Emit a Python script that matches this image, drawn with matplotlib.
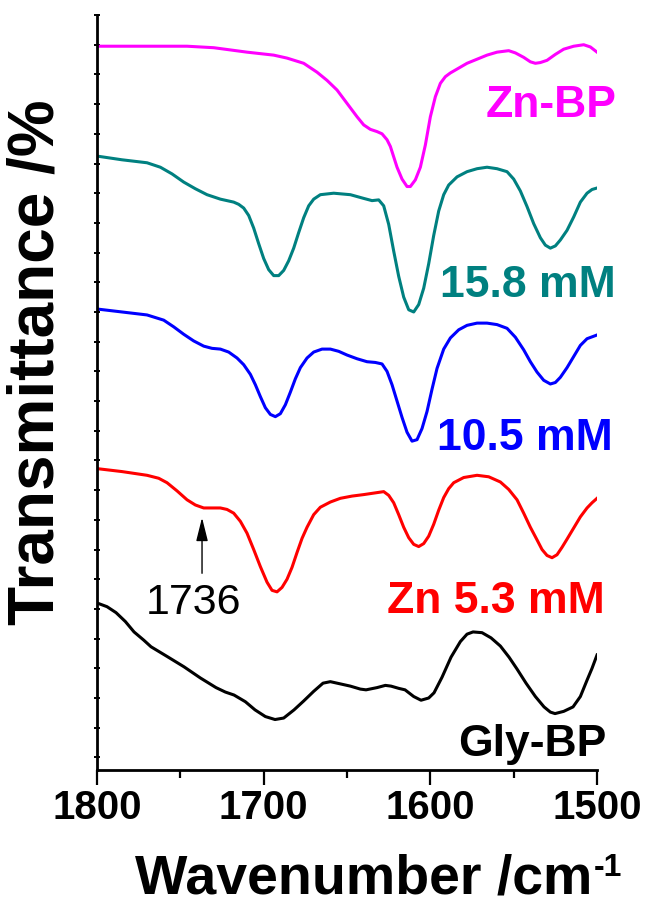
#!/usr/bin/env python3

import matplotlib

matplotlib.use("Agg")
import matplotlib.pyplot as plt
from matplotlib.ticker import FixedLocator

# ==========================================
# DATA (offset transmittance in a.u.)
# ==========================================

ZNBP_WN = [1800, 1746, 1730, 1710, 1694, 1686, 1676, 1668, 1662, 1656, 1650,
           1644, 1640, 1636, 1632, 1629, 1626, 1624, 1620, 1617, 1614, 1612,
           1609, 1606, 1603, 1600, 1597, 1594, 1591, 1588, 1578, 1566, 1560,
           1553, 1549, 1544, 1540, 1537, 1534, 1530, 1525, 1520, 1514, 1508,
           1504, 1500]
ZNBP_T = [95.8, 95.8, 95.6, 95.0, 94.6, 94.2, 93.5, 92.3, 91.2, 89.9, 88.1,
          86.3, 85.2, 84.6, 84.3, 84.0, 83.2, 82.3, 79.5, 77.9, 76.9, 76.9,
          77.8, 79.5, 82.5, 86.3, 89.0, 90.8, 91.7, 92.2, 93.5, 94.6, 95.0,
          95.2, 94.9, 94.3, 93.7, 93.5, 93.6, 93.9, 94.7, 95.4, 95.8, 96.0,
          95.7, 95.0]

ZN158_WN = [1800, 1785, 1770, 1762, 1755, 1748, 1741, 1734, 1726, 1718, 1715,
            1712, 1709, 1706, 1703, 1700, 1697, 1694, 1691, 1688, 1685, 1682,
            1679, 1676, 1673, 1670, 1666, 1658, 1648, 1640, 1635, 1631, 1628,
            1625, 1622, 1619, 1616, 1613, 1610, 1607, 1604, 1601, 1598, 1595,
            1592, 1589, 1584, 1578, 1572, 1566, 1560, 1554, 1550, 1546, 1542,
            1538, 1534, 1531, 1528, 1525, 1522, 1518, 1514, 1510, 1506, 1503,
            1500]
ZN158_T = [81.0, 80.5, 80.1, 79.5, 78.6, 77.5, 76.6, 75.8, 75.2, 74.8, 74.5,
           74.0, 73.0, 71.3, 69.2, 67.2, 65.7, 64.9, 64.9, 65.6, 66.9, 68.6,
           70.7, 72.7, 74.3, 75.2, 75.8, 76.0, 75.8, 75.3, 75.0, 75.1, 74.3,
           71.8, 68.2, 64.8, 62.0, 60.3, 60.0, 61.0, 63.2, 66.5, 70.3, 73.6,
           75.8, 77.1, 78.2, 78.9, 79.3, 79.5, 79.3, 78.9, 77.9, 76.3, 74.2,
           71.9, 70.0, 69.0, 68.6, 68.9, 69.7, 71.0, 72.8, 74.8, 76.0, 76.5,
           76.7]

ZN105_WN = [1800, 1785, 1770, 1760, 1754, 1748, 1742, 1736, 1731, 1726, 1721,
            1716, 1712, 1708, 1705, 1702, 1699, 1696, 1693, 1690, 1687, 1684,
            1681, 1678, 1674, 1670, 1665, 1660, 1655, 1650, 1644, 1638, 1633,
            1629, 1626, 1623, 1620, 1617, 1614, 1611, 1608, 1605, 1602, 1599,
            1596, 1592, 1588, 1583, 1578, 1572, 1566, 1560, 1554, 1549, 1544,
            1540, 1536, 1532, 1528, 1525, 1522, 1518, 1514, 1510, 1506, 1500]
ZN105_T = [60.4, 60.0, 59.6, 58.9, 58.0, 57.0, 56.1, 55.4, 55.1, 55.0, 54.6,
           53.8, 52.9, 51.6, 50.2, 48.6, 47.1, 46.2, 45.9, 46.3, 47.5, 49.2,
           51.0, 52.5, 53.8, 54.6, 55.0, 55.0, 54.7, 54.2, 53.7, 53.3, 53.2,
           53.0, 52.0, 50.2, 48.0, 45.8, 43.8, 42.6, 42.8, 44.3, 46.6, 49.6,
           52.4, 55.0, 56.5, 57.6, 58.2, 58.5, 58.5, 58.3, 57.8, 56.6, 54.9,
           53.3, 51.9, 50.8, 50.3, 50.5, 51.2, 52.5, 54.0, 55.5, 56.4, 56.9]

ZN53_WN = [1800, 1785, 1770, 1763, 1758, 1752, 1746, 1741, 1736, 1731, 1726,
           1722, 1718, 1714, 1710, 1706, 1702, 1698, 1695, 1692, 1689, 1686,
           1683, 1680, 1677, 1674, 1670, 1666, 1660, 1654, 1647, 1640, 1634,
           1628, 1625, 1622, 1619, 1616, 1613, 1610, 1607, 1604, 1601, 1598,
           1595, 1592, 1589, 1586, 1580, 1572, 1565, 1558, 1553, 1548, 1544,
           1540, 1536, 1533, 1530, 1527, 1524, 1521, 1518, 1514, 1510, 1506,
           1503, 1500]
ZN53_T = [38.9, 38.5, 38.0, 37.6, 37.0, 35.9, 34.7, 34.0, 33.6, 33.6, 33.6,
          33.4, 32.9, 31.8, 30.2, 28.0, 25.7, 23.6, 22.5, 22.3, 22.9, 24.0,
          25.6, 27.6, 29.5, 31.0, 32.7, 33.7, 34.4, 34.9, 35.2, 35.4, 35.6,
          35.8, 35.3, 34.3, 32.7, 31.0, 29.6, 28.7, 28.4, 28.8, 29.8, 31.4,
          33.3, 35.0, 36.2, 37.0, 37.7, 38.0, 37.8, 37.1, 36.1, 34.7, 32.9,
          31.0, 29.3, 28.0, 27.2, 26.9, 27.3, 28.3, 29.4, 30.9, 32.4, 33.6,
          34.3, 34.9]

GLY_WN = [1800, 1794, 1788.6, 1783, 1777.8, 1772, 1767.6, 1758, 1747.8, 1738,
          1728.6, 1723, 1717.8, 1711, 1705.2, 1699, 1693.2, 1688, 1681.8, 1676,
          1670, 1664.4, 1660, 1656, 1648, 1642, 1638.6, 1632, 1627, 1623.6,
          1619, 1615.2, 1610, 1605.6, 1601, 1597.8, 1593, 1587.6, 1582, 1578,
          1574.4, 1569, 1563.6, 1558, 1552.8, 1548, 1542.6, 1537, 1531.8, 1528,
          1525.2, 1520, 1514.4, 1510, 1506, 1503, 1500]
GLY_T = [20.8, 20.3, 19.5, 18.3, 16.9, 15.8, 14.9, 13.6, 12.2, 10.7,
         9.4, 8.8, 8.4, 7.5, 6.4, 5.5, 5.1, 5.3, 6.4, 7.6,
         8.9, 10.0, 10.2, 10.0, 9.6, 9.2, 9.1, 9.4, 9.7, 9.6,
         9.3, 9.1, 8.2, 7.7, 8.0, 8.7, 10.8, 13.5, 15.6, 16.6,
         16.9, 16.8, 16.1, 15.0, 13.5, 11.9, 10.0, 8.2, 6.8, 6.1,
         5.9, 6.2, 6.8, 8.2, 10.4, 12.0, 13.8]

SERIES = [
    ("Zn-BP", ZNBP_WN, ZNBP_T, "#FF00FF"),
    ("15.8 mM", ZN158_WN, ZN158_T, "#008080"),
    ("10.5 mM", ZN105_WN, ZN105_T, "#0000FF"),
    ("Zn 5.3 mM", ZN53_WN, ZN53_T, "#FF0000"),
    ("Gly-BP", GLY_WN, GLY_T, "#000000"),
]

# label anchor (wavenumber, baseline value) for each curve
LABEL_POS = {
    "Zn-BP": (1527.6, 86.3),
    "15.8 mM": (1541.4, 62.0),
    "10.5 mM": (1543.2, 41.4),
    "Zn 5.3 mM": (1560.6, 19.5),
    "Gly-BP": (1539.0, 0.2),
}

PEAK_WN = 1736
X_TICKS = [1800, 1700, 1600, 1500]
X_MINOR = [1750, 1650, 1550]

# ==========================================


def main():
    plt.rcParams["font.family"] = ["Liberation Sans", "DejaVu Sans"]

    fig = plt.figure(figsize=(6.46, 9.06), dpi=100)
    ax = fig.add_axes([0.1502, 0.1501, 0.774, 0.8333])

    for name, wn, t, color in SERIES:
        ax.plot(wn, t, color=color, lw=2.2, solid_joinstyle="round")
        lx, ly = LABEL_POS[name]
        ax.text(lx, ly, name, color=color, fontsize=32, fontweight="bold",
                ha="center", va="baseline", clip_on=False)

    # 1736 shoulder marker
    ax.annotate("", xy=(1737, 32.3), xytext=(1737, 24.8),
                arrowprops=dict(arrowstyle="-|>,head_length=1.2,head_width=0.3",
                                color="k", lw=1.0, shrinkA=0, shrinkB=0,
                                mutation_scale=12))
    ax.text(1742.4, 19.3, str(PEAK_WN), fontsize=31, ha="center", va="baseline")

    ax.set_xlim(1800, 1500)
    ax.set_ylim(-1.7, 100)

    ax.spines["top"].set_visible(False)
    ax.spines["right"].set_visible(False)
    ax.spines["left"].set_linewidth(2.0)
    ax.spines["bottom"].set_linewidth(2.0)

    ax.xaxis.set_major_locator(FixedLocator(X_TICKS))
    ax.xaxis.set_minor_locator(FixedLocator(X_MINOR))
    ax.tick_params(axis="x", which="major", direction="out", length=11,
                   width=1.6, pad=3, labelsize=29)
    ax.tick_params(axis="x", which="minor", direction="out", length=5.5,
                   width=1.6)
    for lab in ax.get_xticklabels():
        lab.set_fontweight("bold")

    ax.yaxis.set_major_locator(FixedLocator(list(range(0, 101, 4))))
    ax.tick_params(axis="y", which="major", direction="inout", length=4,
                   width=1.4, labelleft=False)

    # x label with a plain-hyphen superscript
    ax.text(0.99, -0.163, "Wavenumber /cm", transform=ax.transAxes,
            fontsize=40, fontweight="bold", ha="right", va="baseline")
    ax.text(0.993, -0.1404, "-1", transform=ax.transAxes,
            fontsize=23, fontweight="bold", ha="left", va="baseline")

    ax.set_ylabel("Transmittance /%", fontsize=46, fontweight="bold")
    ax.yaxis.set_label_coords(-0.122, 0.54)
    ax.yaxis.label.set_va("center")

    fig.savefig("out.png", dpi=100)
    plt.close(fig)


if __name__ == "__main__":
    main()
